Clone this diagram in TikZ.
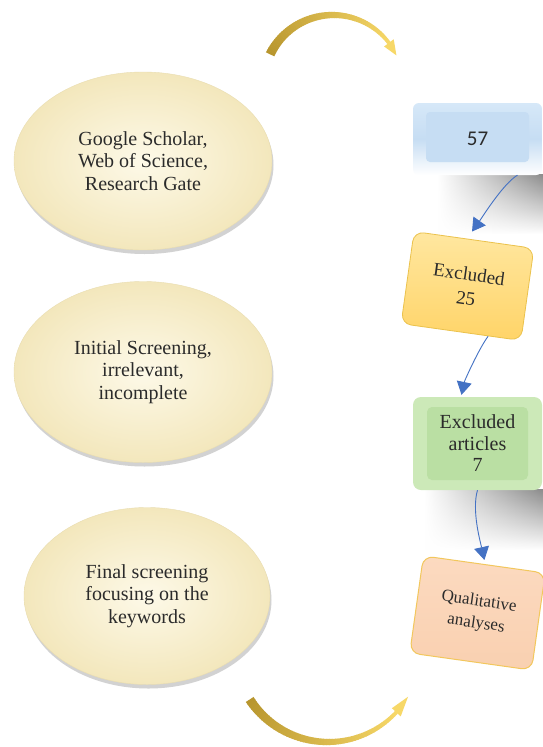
\documentclass[tikz,border=0pt]{standalone}
\usepackage{fontspec}
\setmainfont{Liberation Serif}
\newfontfamily\calib{Carlito}
\usetikzlibrary{shapes.geometric,shadows,arrows.meta,calc,fadings}
\definecolor{txt}{HTML}{2B2B2B}
\definecolor{ovalin}{HTML}{FDF9E8}
\definecolor{ovalout}{HTML}{F3E7BC}
\definecolor{ovalline}{HTML}{E9DDB0}
\definecolor{bluetop}{HTML}{D6E8F8}
\definecolor{bluein}{HTML}{C6DDF3}
\definecolor{ytop}{HTML}{FFE7A0}
\definecolor{ybot}{HTML}{FFD468}
\definecolor{yline}{HTML}{EBC24C}
\definecolor{gout}{HTML}{CCE9B8}
\definecolor{gin}{HTML}{BADFA3}
\definecolor{ptop}{HTML}{FCDAC0}
\definecolor{pbot}{HTML}{F9D0B0}
\definecolor{pline}{HTML}{F2C75C}
\definecolor{flowblue}{HTML}{4472C4}
\definecolor{gdark}{HTML}{B8962E}
\definecolor{glight}{HTML}{F7D868}
\tikzfading[name=fadeleft, left color=transparent!100, right color=transparent!0]
\begin{document}
\begin{tikzpicture}[x=1pt,y=-1pt,
  oval/.style={ellipse, inner sep=0pt, inner color=ovalin, outer color=ovalout,
    draw=ovalline, line width=0.4pt,
    drop shadow={shadow xshift=1.5pt, shadow yshift=-4pt, opacity=0.25, fill=black!70},
    align=center, font=\fontsize{20}{22.5}\selectfont, text=txt},
  flow/.style={draw=flowblue, line width=0.9pt, -{Triangle[length=13pt,width=15pt]}},
  bluebox/.style={rounded corners=6pt, minimum width=129pt, minimum height=72pt,
    top color=bluetop, bottom color=white, middle color=bluein,
    path picture={\fill[bluein, rounded corners=4pt]
      ([xshift=13pt,yshift=-9pt]path picture bounding box.north west) rectangle
      ([xshift=-13pt,yshift=13pt]path picture bounding box.south east);},
    font=\calib\fontsize{21}{24}\selectfont, text=txt},
  yelbox/.style={rounded corners=10pt, minimum width=121pt, minimum height=93pt,
    top color=ytop, bottom color=ybot, draw=yline, line width=0.8pt,
    align=center, font=\fontsize{19}{24}\selectfont, text=txt},
  grnbox/.style={rounded corners=8pt, minimum width=129pt, minimum height=93pt,
    fill=gout,
    path picture={\fill[gin, rounded corners=5pt]
      ([xshift=14pt,yshift=-10pt]path picture bounding box.north west) rectangle
      ([xshift=-14pt,yshift=10pt]path picture bounding box.south east);},
    align=center, font=\fontsize{20}{21.5}\selectfont, text=txt},
  pchbox/.style={rounded corners=10pt, minimum width=123pt, minimum height=98pt,
    top color=ptop, bottom color=pbot, draw=pline, line width=1pt,
    align=center, font=\fontsize{17}{22}\selectfont, text=txt}
]
\useasboundingbox (0,0) rectangle (542,747);
\fill[white] (0,0) rectangle (542,747);

% ovals
\node[oval, minimum width=258pt, minimum height=178pt] (o1) at (143,161)
  {Google Scholar,\\Web of Science,\\Research Gate};
\node[oval, minimum width=258pt, minimum height=181pt] (o2) at (143,372)
  {Initial Screening,\\irrelevant,\\incomplete};
\node[oval, minimum width=246pt, minimum height=177pt] (o3) at (147,596)
  {Final screening\\focusing on the\\keywords};

% shadows under the boxes
\shade[top color=black!45, bottom color=white, path fading=fadeleft]
  (438,175) rectangle (544,234);
\shade[top color=black!45, bottom color=white, path fading=fadeleft]
  (425,490) rectangle (544,550);

% boxes
\node[bluebox] (b57) at (477.5,139) {57};
\node[yelbox, rotate=-8] (ex25) at (467.5,286) {Excluded\\25};
\node[grnbox] (gr) at (477.5,443.5) {Excluded\\articles\\7};
\node[pchbox, rotate=-8] (qa) at (477.5,613) {Qualitative\\analyses};

% connectors
\draw[flow] ([xshift=40pt]b57.south) .. controls +(-14,8) and +(10,-14) ..
  ([xshift=-2pt,yshift=8pt]ex25.north);
\draw[flow] ($(ex25.south)!0.45!(ex25.south east)$) .. controls +(-9,12) and +(3,-14) ..
  ([xshift=-16pt,yshift=2pt]gr.north);
\draw[flow] (gr.south) .. controls +(-6,20) and +(-4,-18) ..
  ([yshift=4pt]qa.north);

% top golden arc
\foreach \i in {0,...,59} {
  \pgfmathsetmacro{\aA}{154-\i*(118/60)}
  \pgfmathsetmacro{\aB}{154-(\i+1)*(118/60)-0.4}
  \pgfmathsetmacro{\wA}{4.6-\i*(2.8/60)}
  \pgfmathsetmacro{\wB}{4.6-(\i+1)*(2.8/60)}
  \pgfmathtruncatemacro{\p}{100-\i*100/59}
  \fill[gdark!\p!glight]
    ({333+(70+\wA)*cos(\aA)},{85-(70+\wA)*sin(\aA)}) --
    ({333+(70+\wB)*cos(\aB)},{85-(70+\wB)*sin(\aB)}) --
    ({333+(70-\wB)*cos(\aB)},{85-(70-\wB)*sin(\aB)}) --
    ({333+(70-\wA)*cos(\aA)},{85-(70-\wA)*sin(\aA)}) -- cycle;
}
\fill[glight] ({333+76*cos(37)},{85-76*sin(37)}) -- ({333+64*cos(37)},{85-64*sin(37)})
  -- ({333+70*cos(25)},{85-70*sin(25)}) -- cycle;

% bottom golden arc
\foreach \i in {0,...,59} {
  \pgfmathsetmacro{\aA}{213+\i*(105/60)}
  \pgfmathsetmacro{\aB}{213+(\i+1)*(105/60)+0.4}
  \pgfmathsetmacro{\wA}{4.6-\i*(2.8/60)}
  \pgfmathsetmacro{\wB}{4.6-(\i+1)*(2.8/60)}
  \pgfmathtruncatemacro{\p}{100-\i*100/59}
  \fill[gdark!\p!glight]
    ({328+(93.4+\wA)*cos(\aA)},{648.6-(93.4+\wA)*sin(\aA)}) --
    ({328+(93.4+\wB)*cos(\aB)},{648.6-(93.4+\wB)*sin(\aB)}) --
    ({328+(93.4-\wB)*cos(\aB)},{648.6-(93.4-\wB)*sin(\aB)}) --
    ({328+(93.4-\wA)*cos(\aA)},{648.6-(93.4-\wA)*sin(\aA)}) -- cycle;
}
\fill[glight] ({328+99.4*cos(317)},{648.6-99.4*sin(317)}) -- ({328+87.4*cos(317)},{648.6-87.4*sin(317)})
  -- ({328+93.4*cos(329)},{648.6-93.4*sin(329)}) -- cycle;
\end{tikzpicture}
\end{document}
